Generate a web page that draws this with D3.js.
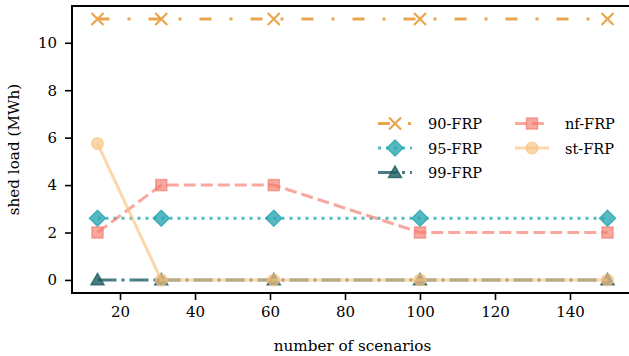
<!DOCTYPE html>
<html><head><meta charset="utf-8">
<script src="https://cdn.jsdelivr.net/npm/d3@7"></script>
<style>
html,body{margin:0;padding:0;background:#fff;}
svg text{font-family:'DejaVu Serif',serif;}
</style></head><body>
<div id="chart"></div>
<script>
const scenarios = [14, 31, 61, 100, 150];
const frp90 = [11, 11, 11, 11, 11];
const frp95 = [2.6, 2.6, 2.6, 2.6, 2.6];
const frp99 = [0, 0, 0, 0, 0];
const nfFRP = [2, 4, 4, 2, 2];
const stFRP = [5.75, 0, 0, 0, 0];
const xTicks = [20, 40, 60, 80, 100, 120, 140];
const yTicks = [0, 2, 4, 6, 8, 10];

const series = [
  {name:"90-FRP", values:frp90, color:"#e9a54e", alpha:1, dash:"12,18,3,18", marker:"x"},
  {name:"95-FRP", values:frp95, color:"#2aa7b3", alpha:0.8, dash:"3,5", marker:"diamond"},
  {name:"99-FRP", values:frp99, color:"#1b5d62", alpha:0.8, dash:"19,5,3,5", marker:"triangle"},
  {name:"nf-FRP", values:nfFRP, color:"#f47a6b", alpha:0.65, dash:"12,5", marker:"square"},
  {name:"st-FRP", values:stFRP, color:"#f9c27f", alpha:0.65, dash:null, marker:"circle"}
];

(function(){
const W = 629, H = 356;
const svg = d3.select("#chart").append("svg").attr("width", W).attr("height", H);
const mL = 72, mR = 633, mT = 6, mB = 293;
const x = d3.scaleLinear().domain([7.2, 156.8]).range([mL, mR]);
const y = d3.scaleLinear().domain([-0.55, 11.55]).range([mB, mT]);

svg.append("clipPath").attr("id","clip").append("rect")
  .attr("x", mL).attr("y", mT-10).attr("width", mR-mL+10).attr("height", mB-mT+20);

function drawMarker(g, type, cx, cy, color, alpha){
  const sw = 1.5;
  if(type==="x"){
    const r = 6;
    g.append("path").attr("d", `M${cx-r},${cy-r}L${cx+r},${cy+r}M${cx-r},${cy+r}L${cx+r},${cy-r}`)
      .attr("stroke", color).attr("stroke-width", 2.2).attr("fill","none").attr("opacity", alpha);
  } else if(type==="diamond"){
    const r = 8;
    g.append("path").attr("d", `M${cx},${cy-r}L${cx+r},${cy}L${cx},${cy+r}L${cx-r},${cy}Z`)
      .attr("fill", color).attr("fill-opacity", alpha).attr("stroke", color).attr("stroke-opacity", alpha).attr("stroke-width", sw);
  } else if(type==="triangle"){
    const r = 6.5;
    g.append("path").attr("d", `M${cx},${cy-r}L${cx+r},${cy+r*0.75}L${cx-r},${cy+r*0.75}Z`)
      .attr("fill", color).attr("fill-opacity", alpha).attr("stroke", color).attr("stroke-opacity", alpha).attr("stroke-width", sw);
  } else if(type==="square"){
    const r = 5.5;
    g.append("rect").attr("x", cx-r).attr("y", cy-r).attr("width", 2*r).attr("height", 2*r)
      .attr("fill", color).attr("fill-opacity", alpha).attr("stroke", color).attr("stroke-opacity", alpha).attr("stroke-width", sw);
  } else if(type==="circle"){
    g.append("circle").attr("cx", cx).attr("cy", cy).attr("r", 5.8)
      .attr("fill", color).attr("fill-opacity", alpha).attr("stroke", color).attr("stroke-opacity", alpha).attr("stroke-width", sw);
  }
}

const plot = svg.append("g").attr("clip-path","url(#clip)");
const line = d3.line().x(d=>x(d[0])).y(d=>y(d[1]));
series.forEach(s=>{
  const g = plot.append("g");
  const pts = scenarios.map((v,i)=>[v, s.values[i]]);
  g.append("path").attr("d", line(pts)).attr("fill","none")
    .attr("stroke", s.color).attr("stroke-opacity", s.alpha).attr("stroke-width", 3)
    .attr("stroke-dasharray", s.dash);
  pts.forEach(p=>drawMarker(g, s.marker, x(p[0]), y(p[1]), s.color, s.alpha));
});

const xAxis = svg.append("g").attr("transform", `translate(0,${mB})`)
  .call(d3.axisBottom(x).tickValues(xTicks).tickSize(7).tickPadding(6));
const yAxis = svg.append("g").attr("transform", `translate(${mL},0)`)
  .call(d3.axisLeft(y).tickValues(yTicks).tickSize(7).tickPadding(8));
[xAxis, yAxis].forEach(a=>{
  a.attr("font-family", null);
  a.select(".domain").remove();
  a.selectAll(".tick line").attr("stroke","#000").attr("stroke-width",1.6);
  a.selectAll(".tick text").attr("fill","#000").attr("font-size",15);
});
svg.append("line").attr("x1", mL).attr("x2", mL).attr("y1", mT).attr("y2", mB+1).attr("stroke","#000").attr("stroke-width",2);
svg.append("line").attr("x1", mL-1).attr("x2", W).attr("y1", mB).attr("y2", mB).attr("stroke","#000").attr("stroke-width",2);
svg.append("line").attr("x1", mL-1).attr("x2", W).attr("y1", mT).attr("y2", mT).attr("stroke","#000").attr("stroke-width",2);

svg.append("text").attr("x", (mL+mR)/2).attr("y", 351).attr("text-anchor","middle")
  .attr("font-size", 15.2).text("number of scenarios");
svg.append("text").attr("transform", `translate(19,${(mT+mB)/2}) rotate(-90)`).attr("text-anchor","middle")
  .attr("font-size", 15.2).text("shed load (MWh)");

const legendCols = [[0,1,2],[3,4]];
const colX = [378, 515];
const rowY = [123.5, 148, 172.5];
legendCols.forEach((col, ci)=>{
  col.forEach((si, ri)=>{
    const s = series[si];
    const g = svg.append("g");
    const x0 = colX[ci], yy = rowY[ri];
    g.append("line").attr("x1", x0).attr("x2", x0+34).attr("y1", yy).attr("y2", yy)
      .attr("stroke", s.color).attr("stroke-opacity", s.alpha).attr("stroke-width", 3)
      .attr("stroke-dasharray", s.dash);
    drawMarker(g, s.marker, x0+17, yy, s.color, s.alpha);
    g.append("text").attr("x", x0+50).attr("y", yy+5.5).attr("font-size", 14.5).text(s.name);
  });
});
})();
</script>
</body></html>
